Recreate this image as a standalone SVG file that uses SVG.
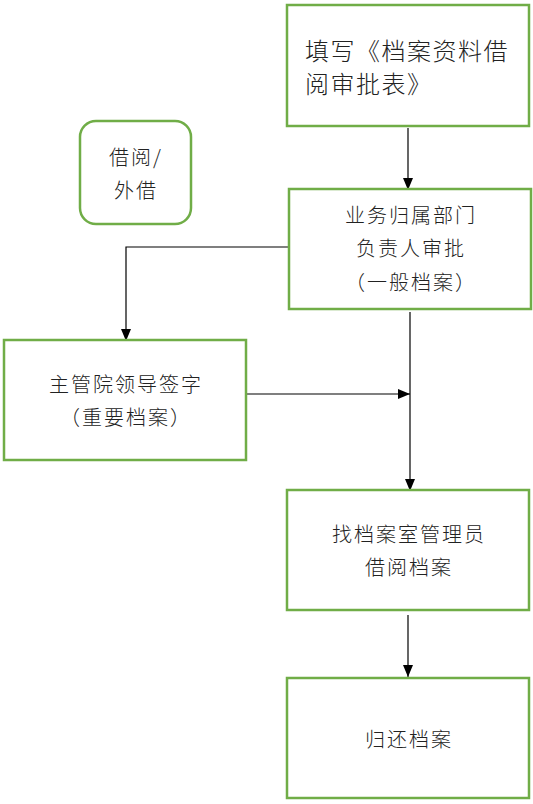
<svg xmlns="http://www.w3.org/2000/svg" width="533" height="804" viewBox="0 0 533 804">
<style>
.box{fill:#fff;stroke:#70ad47;stroke-width:2.5}
.t{font-family:"Noto Sans CJK SC","Noto Sans CJK JP",sans-serif;font-weight:300;fill:#222;font-size:20px;letter-spacing:2px;text-anchor:middle}
.big{font-size:24px;letter-spacing:1.5px;text-anchor:start}
.c{stroke:#000;stroke-width:1.2;fill:none}
</style>
<defs>
<marker id="ah" viewBox="0 0 12 10" refX="12" refY="5" markerWidth="12" markerHeight="10" markerUnits="userSpaceOnUse" orient="auto">
<path d="M0,0 L12,5 L0,10 z" fill="#000"/>
</marker>
</defs>
<g id="connectors">
<path class="c" d="M408,128 V190" marker-end="url(#ah)"/>
<path class="c" d="M289,247 H126 V341" marker-end="url(#ah)"/>
<path class="c" d="M410,312 V491" marker-end="url(#ah)"/>
<path class="c" d="M247,394 H410" marker-end="url(#ah)"/>
<path class="c" d="M408,615 V677" marker-end="url(#ah)"/>
</g>
<g id="n1">
<rect class="box" x="287" y="5" width="242" height="121"/>
<text class="t big" x="305" y="60">填写《档案资料借</text>
<text class="t big" x="305" y="93">阅审批表》</text>
</g>
<g id="n0">
<rect class="box" x="80" y="121" width="111" height="103" rx="16"/>
<text class="t" x="136" y="165">借阅/</text>
<text class="t" x="136" y="198">外借</text>
</g>
<g id="n2">
<rect class="box" x="289" y="189" width="242" height="120"/>
<text class="t" x="411" y="223">业务归属部门</text>
<text class="t" x="411" y="256">负责人审批</text>
<text class="t" x="411" y="290">（一般档案）</text>
</g>
<g id="n3">
<rect class="box" x="4" y="340" width="242" height="120"/>
<text class="t" x="126" y="392">主管院领导签字</text>
<text class="t" x="126" y="425">（重要档案）</text>
</g>
<g id="n4">
<rect class="box" x="287" y="490" width="242" height="120"/>
<text class="t" x="409" y="542">找档案室管理员</text>
<text class="t" x="409" y="575">借阅档案</text>
</g>
<g id="n5">
<rect class="box" x="287" y="678" width="242" height="120"/>
<text class="t" x="409" y="747">归还档案</text>
</g>
</svg>
